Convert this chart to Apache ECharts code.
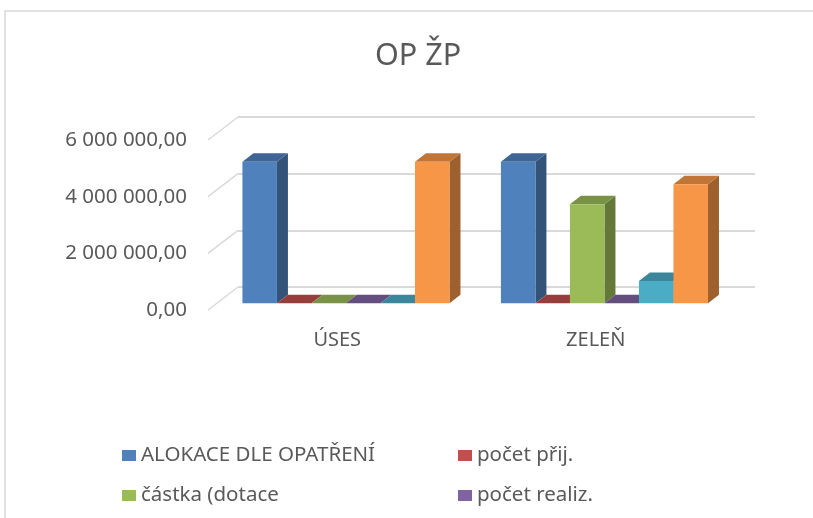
<!DOCTYPE html>
<html lang="cs">
<head>
    <meta charset="UTF-8">
    <title>OP ŽP</title>
    <script src="https://cdn.jsdelivr.net/npm/echarts@6/dist/echarts.min.js"></script>
    <style>
        html, body { margin: 0; padding: 0; background: #fff; }
        #main { width: 813px; height: 518px; }
    </style>
</head>
<body>
<div id="main"></div>
<script>
    // data
    var categories = ['ÚSES', 'ZELEŇ'];
    var alokace = [5000000, 5000000];
    var pocetPrij = [0, 0];
    var castka = [0, 3500000];
    var pocetRealiz = [0, 0];
    var serie5 = [0, 790000];
    var serie6 = [5000000, 4200000];
    var yTicks = [0, 2000000, 4000000, 6000000];

    var seriesNames = ['ALOKACE DLE OPATŘENÍ', 'počet přij.', 'částka (dotace', 'počet realiz.', ' ', '  '];
    var seriesValues = [alokace, pocetPrij, castka, pocetRealiz, serie5, serie6];
    var colors = ['#4F81BD', '#C0504D', '#9BBB59', '#8064A2', '#4BACC6', '#F79646'];

    // oblique 3d: full depth of the plot and of one bar
    var DX = 30, DY = 23;
    var F0 = 0.29;          // where the bars' front face sits in the depth
    var BDX = 11, BDY = 8.5;

    var FONT = 'Noto Sans';
    var TEXT = '#595959';

    function shade(hex, k) {
        var n = parseInt(hex.slice(1), 16);
        var r = Math.round(((n >> 16) & 255) * k);
        var g = Math.round(((n >> 8) & 255) * k);
        var b = Math.round((n & 255) * k);
        return 'rgb(' + r + ',' + g + ',' + b + ')';
    }

    function fmt(v) {
        var s = v.toFixed(2).split('.');
        return s[0].replace(/\B(?=(\d{3})+(?!\d))/g, ' ') + ',' + s[1];
    }

    function barRenderer(idx) {
        var c = colors[idx];
        return function (params, api) {
            var cat = api.value(0);
            var base = api.coord([cat, 0]);
            var top = api.coord([cat, api.value(1)]);
            var band = api.size([1, 0])[0];
            var w = band * 0.1335;
            var x0 = base[0] - 3 * w + idx * w + F0 * DX;
            var yb = base[1] - F0 * DY;
            var yt = top[1] - F0 * DY;
            return {
                type: 'group',
                children: [
                    {
                        type: 'polygon',
                        shape: { points: [[x0 + w, yt], [x0 + w + BDX, yt - BDY], [x0 + w + BDX, yb - BDY], [x0 + w, yb]] },
                        style: { fill: shade(c, 0.64) }
                    },
                    {
                        type: 'polygon',
                        shape: { points: [[x0, yt], [x0 + BDX, yt - BDY], [x0 + w + BDX, yt - BDY], [x0 + w, yt]] },
                        style: { fill: shade(c, 0.78) }
                    },
                    {
                        type: 'rect',
                        shape: { x: x0, y: yt, width: w, height: yb - yt },
                        style: { fill: c }
                    }
                ]
            };
        };
    }

    var series = [];

    // diagonal part of the gridlines, from the front edge to the back wall
    series.push({
        type: 'custom',
        name: 'grid-diag',
        xAxisIndex: 0,
        yAxisIndex: 0,
        silent: true,
        data: yTicks.map(function (v) { return [0, v]; }),
        renderItem: function (params, api) {
            var p = api.coord([0, api.value(1)]);
            var x = params.coordSys.x;
            return {
                type: 'line',
                shape: { x1: x, y1: p[1], x2: x + DX, y2: p[1] - DY },
                style: { stroke: '#d9d9d9', lineWidth: 1.5 }
            };
        }
    });

    for (var i = 0; i < seriesValues.length; i++) {
        series.push({
            type: 'custom',
            name: seriesNames[i],
            xAxisIndex: 0,
            yAxisIndex: 0,
            itemStyle: { color: colors[i] },
            data: seriesValues[i].map(function (v, j) { return [j, v]; }),
            renderItem: barRenderer(i)
        });
    }

    var legendText = { fontFamily: FONT, fontSize: 20.5, color: TEXT };

    var chart = echarts.init(document.getElementById('main'));
    chart.setOption({
        animation: false,
        color: colors,
        textStyle: { fontFamily: FONT },
        title: {
            text: 'OP ŽP',
            left: 370,
            top: 36,
            textStyle: { fontFamily: FONT, fontSize: 30.5, fontWeight: 'normal', color: TEXT }
        },
        graphic: [{
            type: 'rect',
            shape: { x: 5, y: 11, width: 900, height: 600 },
            style: { fill: 'none', stroke: '#d9d9d9', lineWidth: 1.5 },
            silent: true
        }],
        legend: [{
            data: ['ALOKACE DLE OPATŘENÍ', 'částka (dotace'],
            orient: 'vertical',
            left: 117,
            top: 440,
            itemGap: 19,
            itemWidth: 14,
            itemHeight: 11,
            icon: 'rect',
            textStyle: legendText
        }, {
            data: ['počet přij.', 'počet realiz.'],
            orient: 'vertical',
            left: 453,
            top: 440,
            itemGap: 19,
            itemWidth: 14,
            itemHeight: 11,
            icon: 'rect',
            textStyle: legendText
        }],
        grid: [
            { left: 208, right: 88, top: 140, bottom: 208 },
            { left: 208 + DX, right: 88 - DX, top: 140 - DY, bottom: 208 + DY }
        ],
        xAxis: [{
            type: 'category',
            gridIndex: 0,
            data: categories,
            axisLine: { show: false },
            axisTick: { show: false },
            axisLabel: { margin: 20, fontFamily: FONT, fontSize: 20, color: TEXT }
        }, {
            type: 'category',
            gridIndex: 1,
            data: categories,
            show: false
        }],
        yAxis: [{
            type: 'value',
            gridIndex: 0,
            min: 0,
            max: 6000000,
            interval: 2000000,
            axisLine: { show: false },
            axisTick: { show: false },
            splitLine: { show: false },
            axisLabel: { margin: 21, fontFamily: FONT, fontSize: 20.5, color: TEXT, formatter: fmt }
        }, {
            type: 'value',
            gridIndex: 1,
            min: 0,
            max: 6000000,
            interval: 2000000,
            axisLine: { show: false },
            axisTick: { show: false },
            axisLabel: { show: false },
            splitLine: { show: true, lineStyle: { color: '#d9d9d9', width: 2 } }
        }],
        series: series
    });
</script>
</body>
</html>
